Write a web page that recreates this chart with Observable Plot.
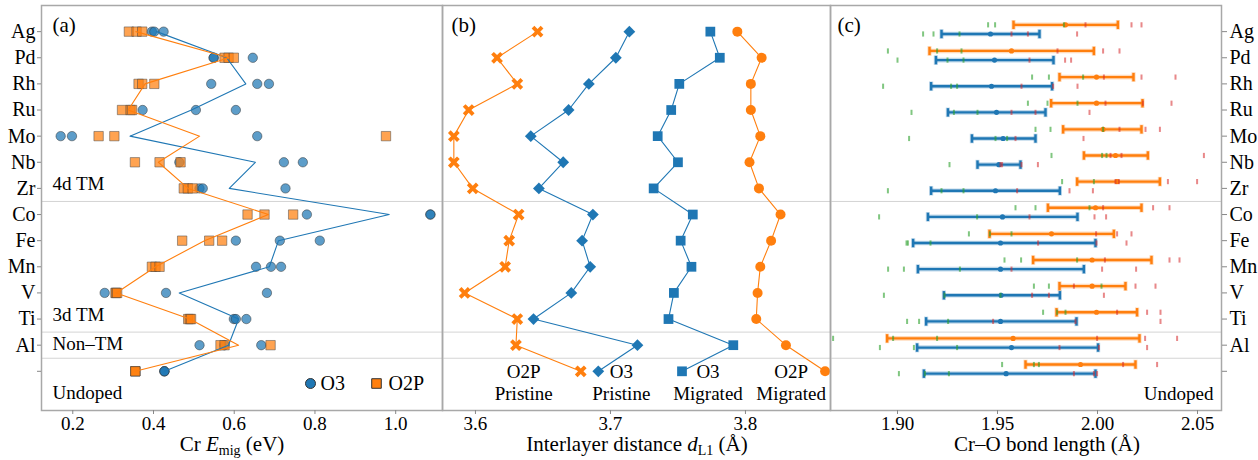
<!DOCTYPE html>
<html><head><meta charset="utf-8">
<script src="https://cdn.jsdelivr.net/npm/d3@7"></script>
<script src="https://cdn.jsdelivr.net/npm/@observablehq/plot@0.6"></script>
<style>
html,body{margin:0;padding:0;background:#fff;}
#chart{position:relative;width:1258px;height:460px;overflow:hidden;background:#fff;}
#chart svg{position:absolute;left:0;top:0;}
</style></head><body><div id="chart"></div>
<script>
// ---------- data ----------
const rows = ["Ag","Pd","Rh","Ru","Mo","Nb","Zr","Co","Fe","Mn","V","Ti","Al","Undoped"];
const groupLabels = ["4d TM","3d TM","Non–TM","Undoped"];
const groupLastRow = [6, 11, 12, 13];

// (a) Cr migration energies (eV), three sites per dopant
const emigO3 = [
 [0.396,0.402,0.425],[0.549,0.549,0.646],[0.543,0.657,0.686],[0.373,0.505,0.604],
 [0.170,0.198,0.657],[0.464,0.723,0.770],[0.514,0.522,0.727],[0.780,1.086,1.086],
 [0.604,0.713,0.812],[0.654,0.691,0.716],[0.279,0.431,0.681],[0.599,0.604,0.630],
 [0.514,0.576,0.667],[0.427,0.427,0.427]];
const emigO2P = [
 [0.339,0.358,0.372],[0.576,0.586,0.599],[0.363,0.372,0.402],[0.322,0.343,0.347],
 [0.264,0.303,0.976],[0.354,0.415,0.467],[0.475,0.485,0.497],[0.633,0.675,0.746],
 [0.471,0.538,0.570],[0.396,0.405,0.415],[0.306,0.307,0.310],[0.486,0.490,0.493],
 [0.566,0.576,0.690],[0.355,0.355,0.355]];
const ticksA = [0.2,0.4,0.6,0.8,1.0];

// (b) interlayer distance d_L1 (Å)
const dL1_O2P_pristine = [3.646,3.616,3.631,3.595,3.584,3.584,3.598,3.632,3.625,3.622,3.592,3.631,3.630,3.678];
const dL1_O3_pristine  = [3.714,3.704,3.684,3.669,3.641,3.665,3.647,3.687,3.679,3.685,3.671,3.643,3.720,3.691];
const dL1_O3_migrated  = [3.774,3.781,3.751,3.745,3.735,3.750,3.732,3.761,3.752,3.760,3.747,3.743,3.791,3.753];
const dL1_O2P_migrated = [3.794,3.812,3.804,3.804,3.811,3.803,3.810,3.826,3.819,3.811,3.809,3.808,3.830,3.859];
const ticksB = [3.6,3.7,3.8];

// (c) Cr–O bond lengths (Å)
const bondO3_lo   = [1.9220,1.9192,1.9168,1.9252,1.9372,1.9400,1.9168,1.9152,1.9078,1.9102,1.9232,1.9143,1.9098,1.9132];
const bondO3_mean = [1.9465,1.9485,1.9470,1.9495,1.9528,1.9507,1.9490,1.9525,1.9515,1.9515,1.9518,1.9515,1.9570,1.9543];
const bondO3_hi   = [1.9710,1.9780,1.9773,1.9740,1.9690,1.9615,1.9812,1.9900,1.9990,1.9932,1.9812,1.9895,2.0003,1.9990];
const bondO3_short = [[1.9128,1.918,1.931],[1.900,1.925,1.933],[1.8928,1.9268,1.9298],[1.907,1.9282,1.940],
 [1.9058,1.949,1.9548],[1.926],[1.8952,1.922,1.933],[1.8908,1.9398],[1.9045,1.9052,1.9165],
 [1.8953,1.9032,1.9312],[1.8932,1.9235,1.9515],[1.9048,1.9108,1.9253],[1.8912,1.9082,1.9298],[1.9007,1.9137,1.9257]];
const bondO3_long = [[1.957,1.9652,1.9898],[1.966,1.9838,1.9868],[1.962,1.9778,1.990],[1.957,1.969,1.996],
 [1.959,1.993],[1.9515,1.9523,1.962,1.9702],[1.9598,1.986,1.9977],[1.966,1.9985,2.0043],[1.9703,1.9995,2.0145],
 [1.957,2.0023,2.0193],[1.9673,1.9757,2.0032],[1.9478,1.989,2.0315],[1.981,2.0007,2.0248],[1.9882,1.9982,1.9998]];
const bondO2P_lo   = [1.9580,1.9160,1.9810,1.9768,1.9828,1.9932,1.9898,1.9752,1.9460,1.9678,1.9810,1.9795,1.8948,1.9640];
const bondO2P_mean = [1.9840,1.9570,1.9995,1.9995,2.0028,2.0090,2.0098,1.9990,1.9770,1.9973,1.9973,1.9995,1.9578,1.9915];
const bondO2P_hi   = [2.0102,1.9982,2.0180,2.0225,2.0220,2.0252,2.0312,2.0220,2.0082,2.0270,2.0140,2.0198,2.0210,2.0190];
const bondO2P_short = [[1.9453,1.9488,1.9832],[1.8952,1.9198,1.932],[1.9673,1.9757,1.9928],[1.9652,1.975,1.990],
 [1.969,1.9765,2.0028],[1.977,2.0023,2.0045],[1.9823,1.9982],[1.959,1.969,1.996],[1.9357,1.9462,1.957],
 [1.9535,1.9618,1.9898],[1.9682,1.9757,2.002],[1.9728,1.9798,1.984],[1.8678,1.8978,1.9198],[1.9523,1.9682,1.9707]];
const bondO2P_long = [[1.994,2.017,2.022],[1.980,2.0028,2.011],[2.0032,2.022,2.039],[2.004,2.0227,2.037],
 [2.011,2.024,2.0312],[2.0065,2.012,2.0532],[2.009,2.0107,2.0352,2.0498],[2.0028,2.0278,2.036],[1.9993,2.0098,2.017],
 [2.0037,2.036,2.041],[1.9882,2.019,2.029],[2.0098,2.0248,2.0315],[1.9998,2.0238,2.0398],[2.0128,2.0298]];
const ticksC = [1.90,1.95,2.00,2.05];

// ---------- layout / style ----------
const W = 1258, H = 460, MT = 5, MB = 50;
const FONT = '"Liberation Serif","Times New Roman",serif';
const BLUE = "#1f77b4", ORANGE = "#ff7f0e", GREEN = "#2ca02c", RED = "#d62728";
const FRAME = "#a8a8a8", DIV = "#d4d4d4", TICK = "#888";
const yScale = {domain: [-1, 14.5], reverse: true};
const rowTicks = d3.range(rows.length);
const rowLabel = i => rows[i] === "Undoped" ? "" : rows[i];
const dividers = groupLastRow.slice(0, 3).map(r => r + 0.5);
const baseStyle = {fontFamily: FONT, fontSize: "19px", background: "transparent", color: "black", overflow: "visible"};

const vline = {draw(ctx, size) { const h = Math.sqrt(size / Math.PI); ctx.moveTo(0, -h); ctx.lineTo(0, h); }};
const filledX = {draw(ctx, size) {
  const a = Math.sqrt(size / Math.PI), w = a * 0.3, s = Math.SQRT1_2;
  const p = [[w,w],[w,a],[-w,a],[-w,w],[-a,w],[-a,-w],[-w,-w],[-w,-a],[w,-a],[w,-w],[a,-w],[a,w]];
  p.forEach(([x, y], i) => { const X = (x - y) * s, Y = (x + y) * s; i ? ctx.lineTo(X, Y) : ctx.moveTo(X, Y); });
  ctx.closePath();
}};
const diamond = {draw(ctx, size) { const a = Math.sqrt(size / Math.PI);
  ctx.moveTo(0, -a); ctx.lineTo(a, 0); ctx.lineTo(0, a); ctx.lineTo(-a, 0); ctx.closePath(); }};

function addTitle(svg, cx, parts) {
  const t = d3.select(svg).append("text").attr("x", cx).attr("y", 451)
    .attr("text-anchor", "middle").attr("font-family", FONT).attr("font-size", 21).attr("fill", "black");
  let shifted = false;
  parts.forEach(p => {
    const ts = t.append("tspan").text(p.t);
    if (p.i) ts.attr("font-style", "italic");
    if (p.sub) { ts.attr("font-size", 14).attr("dy", 4); shifted = true; }
    else if (shifted) { ts.attr("dy", -4); shifted = false; }
  });
}

const chart = document.getElementById("chart");

// ---------- panel (a) ----------
const ptsO3 = emigO3.flatMap((vals, i) => vals.map(v => ({row: i, v})));
const ptsO2P = emigO2P.flatMap((vals, i) => vals.map(v => ({row: i, v})));
const meanO3 = emigO3.map((vals, i) => ({row: i, v: d3.mean(vals)}));
const meanO2P = emigO2P.map((vals, i) => ({row: i, v: d3.mean(vals)}));
const groupData = groupLabels.map((g, k) => ({g, row: groupLastRow[k] + [-0.19, -0.14, -0.03, 0.84][k]}));

const plotA = Plot.plot({
  width: W, height: H, marginTop: MT, marginBottom: MB, marginLeft: 41, marginRight: W - 442,
  style: baseStyle,
  x: {domain: [0.1225, 1.116]}, y: yScale,
  marks: [
    Plot.ruleY(dividers, {stroke: DIV, strokeWidth: 1}),
    Plot.dot(ptsO3, {x: "v", y: "row", r: 4.7, fill: BLUE, fillOpacity: 0.72, stroke: "#333", strokeOpacity: 0.55, strokeWidth: 0.9}),
    Plot.dot(ptsO2P, {x: "v", y: "row", symbol: "square", r: 5.3, fill: ORANGE, fillOpacity: 0.72, stroke: "#444", strokeOpacity: 0.55, strokeWidth: 0.9}),
    Plot.line(meanO3, {x: "v", y: "row", stroke: BLUE, strokeWidth: 1.1}),
    Plot.line(meanO2P, {x: "v", y: "row", stroke: ORANGE, strokeWidth: 1.1}),
    Plot.frame({stroke: FRAME, strokeWidth: 1.5}),
    Plot.axisY(rowTicks, {tickFormat: rowLabel, tickSize: 4, tickPadding: 2, fontSize: 20, stroke: TICK, label: null}),
    Plot.axisX(ticksA, {tickFormat: d3.format(".1f"), tickSize: 4, tickPadding: 2, fontSize: 19, stroke: TICK, label: null}),
    Plot.text(["(a)"], {frameAnchor: "top-left", dx: 11, dy: 20, textAnchor: "start", lineAnchor: "middle", fontSize: 21}),
    Plot.text(groupData, {frameAnchor: "left", y: "row", text: "g", dx: 11, textAnchor: "start", lineAnchor: "middle", fontSize: 19}),
    Plot.dot([0], {frameAnchor: "bottom-right", dx: -132, dy: -27, r: 5, fill: BLUE, stroke: "#333", strokeWidth: 1}),
    Plot.text(["O3"], {frameAnchor: "bottom-right", dx: -122, dy: -27, textAnchor: "start", lineAnchor: "middle", fontSize: 20}),
    Plot.dot([0], {frameAnchor: "bottom-right", dx: -66, dy: -27, symbol: "square", r: 5.4, fill: ORANGE, stroke: "#333", strokeWidth: 1}),
    Plot.text(["O2P"], {frameAnchor: "bottom-right", dx: -54, dy: -27, textAnchor: "start", lineAnchor: "middle", fontSize: 20})
  ]
});
chart.appendChild(plotA);
addTitle(plotA, 232, [{t: "Cr "}, {t: "E", i: true}, {t: "mig", sub: true}, {t: " (eV)"}]);

// ---------- panel (b) ----------
const seriesB = [
  {vals: dL1_O2P_pristine, color: ORANGE, symbol: filledX, r: 6.4, label: "O2P\nPristine", ldx: -57},
  {vals: dL1_O3_pristine, color: BLUE, symbol: diamond, r: 5.9, label: "O3\nPristine", ldx: 23},
  {vals: dL1_O3_migrated, color: BLUE, symbol: "square", r: 5.5, label: "O3\nMigrated", ldx: 26},
  {vals: dL1_O2P_migrated, color: ORANGE, symbol: "circle", r: 5.0, label: "O2P\nMigrated", ldx: -34}
];
const marksB = [Plot.ruleY(dividers, {stroke: DIV, strokeWidth: 1})];
seriesB.forEach(s => {
  const d = s.vals.map((v, i) => ({row: i, v}));
  marksB.push(Plot.line(d, {x: "v", y: "row", stroke: s.color, strokeWidth: 1.1}));
  marksB.push(Plot.dot(d, {x: "v", y: "row", symbol: s.symbol, r: s.r, fill: s.color, stroke: "none"}));
  const last = d[d.length - 1];
  marksB.push(Plot.text([{row: last.row, v: last.v, t: s.label}], {x: "v", y: "row", text: "t", dx: s.ldx, dy: 11,
    textAnchor: "middle", lineAnchor: "middle", lineHeight: 1.16, fontSize: 19}));
});
marksB.push(
  Plot.frame({stroke: FRAME, strokeWidth: 1.5}),
  Plot.axisX(ticksB, {tickFormat: d3.format(".1f"), tickSize: 4, tickPadding: 2, fontSize: 19, stroke: TICK, label: null}),
  Plot.text(["(b)"], {frameAnchor: "top-left", dx: 9, dy: 20, textAnchor: "start", lineAnchor: "middle", fontSize: 21})
);
const plotB = Plot.plot({
  width: W, height: H, marginTop: MT, marginBottom: MB, marginLeft: 442, marginRight: W - 830,
  style: baseStyle,
  x: {domain: [3.5756, 3.863]}, y: {...yScale, axis: null},
  marks: marksB
});
chart.appendChild(plotB);
addTitle(plotB, 637, [{t: "Interlayer distance "}, {t: "d", i: true}, {t: "L1", sub: true}, {t: " (Å)"}]);

// ---------- panel (c) ----------
const OFF_O2P = -0.26, OFF_O3 = 0.09;
function barData(lo, mean, hi, off) { return rows.map((r, i) => ({row: i + off, lo: lo[i], mean: mean[i], hi: hi[i]})); }
function tickData(arr, off) { return arr.flatMap((vals, i) => vals.map(v => ({row: i + off, v}))); }
const barsC = [
  {bars: barData(bondO2P_lo, bondO2P_mean, bondO2P_hi, OFF_O2P), color: ORANGE, short: tickData(bondO2P_short, OFF_O2P), long: tickData(bondO2P_long, OFF_O2P)},
  {bars: barData(bondO3_lo, bondO3_mean, bondO3_hi, OFF_O3), color: BLUE, short: tickData(bondO3_short, OFF_O3), long: tickData(bondO3_long, OFF_O3)}
];
const marksC = [Plot.ruleY(dividers, {stroke: DIV, strokeWidth: 1})];
barsC.forEach(s => {
  const caps = s.bars.flatMap(b => [{row: b.row, v: b.lo}, {row: b.row, v: b.hi}]);
  marksC.push(
    Plot.ruleY(s.bars, {x1: "lo", x2: "hi", y: "row", stroke: s.color, strokeWidth: 4.6, strokeOpacity: 0.28}),
    Plot.dot(caps, {x: "v", y: "row", symbol: vline, r: 4.8, fill: "none", stroke: s.color, strokeWidth: 4.2, strokeOpacity: 0.28}),
    Plot.ruleY(s.bars, {x1: "lo", x2: "hi", y: "row", stroke: s.color, strokeWidth: 2.3}),
    Plot.dot(caps, {x: "v", y: "row", symbol: vline, r: 4.2, fill: "none", stroke: s.color, strokeWidth: 2.4}),
    Plot.dot(s.bars, {x: "mean", y: "row", r: 2.6, fill: s.color, stroke: "none"})
  );
});
barsC.forEach(s => {
  marksC.push(
    Plot.dot(s.short, {x: "v", y: "row", symbol: vline, r: 2.6, fill: "none", stroke: GREEN, strokeOpacity: 0.6, strokeWidth: 2}),
    Plot.dot(s.long, {x: "v", y: "row", symbol: vline, r: 2.6, fill: "none", stroke: RED, strokeOpacity: 0.55, strokeWidth: 2})
  );
});
marksC.push(
  Plot.frame({stroke: FRAME, strokeWidth: 1.5}),
  Plot.axisY(rowTicks, {anchor: "right", tickFormat: rowLabel, tickSize: 5, tickPadding: 3, fontSize: 20, stroke: TICK, label: null}),
  Plot.axisX(ticksC, {tickFormat: d3.format(".2f"), tickSize: 4, tickPadding: 2, fontSize: 19, stroke: TICK, label: null}),
  Plot.text(["(c)"], {frameAnchor: "top-left", dx: 7, dy: 20, textAnchor: "start", lineAnchor: "middle", fontSize: 21}),
  Plot.text(["Undoped"], {frameAnchor: "bottom-right", dx: -8, dy: -17, textAnchor: "end", lineAnchor: "middle", fontSize: 19})
);
const plotC = Plot.plot({
  width: W, height: H, marginTop: MT, marginBottom: MB, marginLeft: 830, marginRight: W - 1221,
  style: baseStyle,
  x: {domain: [1.8665, 2.062]}, y: yScale,
  marks: marksC
});
chart.appendChild(plotC);
addTitle(plotC, 1047, [{t: "Cr–O bond length (Å)"}]);
</script></body></html>
